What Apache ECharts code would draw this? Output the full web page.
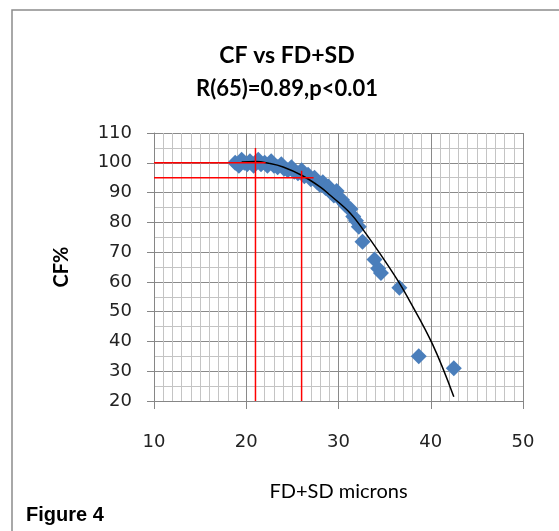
<!DOCTYPE html>
<html>
<head>
<meta charset="utf-8">
<script src="https://cdn.jsdelivr.net/npm/echarts@6/dist/echarts.min.js"></script>
<style>
  html, body { margin: 0; padding: 0; background: #fff; }
  #chart { width: 559px; height: 531px; }
</style>
</head>
<body>
<div id="chart"></div>
<script>
// measured CF% against FD+SD (microns)
const fdsd = [18.8, 19.2, 19.5, 19.8, 20.1, 20.4, 20.8, 21.0, 21.3, 21.6, 22.0, 22.3, 22.7, 23.0,
  23.4, 23.8, 24.1, 24.5, 24.9, 25.2, 25.6, 26.0, 26.3, 26.7, 27.0, 27.4, 27.7, 28.0, 28.3,
  28.6, 28.9, 29.2, 29.5, 29.8, 30.1, 30.4, 30.7, 31.0, 31.3, 31.6, 31.9, 32.2, 32.6, 33.9,
  34.3, 34.6, 36.6, 38.7, 42.5]
const cf = [100, 99, 101, 100, 99.5, 100.5, 99, 100, 101, 99.5, 100, 99, 100.5, 99,
  98.5, 99.5, 98, 97.5, 98.5, 97, 96.5, 97.5, 95.5, 96, 94.5, 95, 93.5, 92.5, 93.5,
  91.5, 92, 90, 89, 90.5, 88, 87.5, 86, 85, 84.5, 82, 80.5, 78.5, 73.5, 67.5,
  64.5, 63, 58, 35, 31]

// polynomial trendline
const trendX = [19.5, 21, 22.5, 24, 26, 28, 29.1, 31.3, 32.7, 34.5, 36.4, 37.5, 40.2, 42.5]
const trendY = [100.3, 100.4, 99.8, 98.6, 95.8, 91.9, 89.1, 83, 77.4, 69.5, 60.6, 54.8, 39, 21.4]

// red reference cross-hairs
const ref1X = [10, 22.1, null, 21, 21]
const ref1Y = [100, 100, null, 20, 105]
const ref2X = [10, 27.3, null, 26, 26]
const ref2Y = [95, 95, null, 20, 97.3]

const xTicks = [10, 50, 10]   // min, max, interval
const yTicks = [20, 110, 10]

const pairs = (xs, ys) => xs.map((x, i) => (x === null ? [null, null] : [x, ys[i]]))

const chart = echarts.init(document.getElementById('chart'))

const tickFont = { color: '#222', fontFamily: 'DejaVu Sans', fontSize: 18 }

chart.setOption({
  backgroundColor: '#fff',
  animation: false,
  title: [
    {
      text: 'CF vs FD+SD',
      left: 282, top: 39, textAlign: 'center',
      textStyle: { fontFamily: 'Lato', fontWeight: 'bold', fontSize: 23, color: '#000' }
    },
    {
      text: 'R(65)=0.89,p<0.01',
      left: 282, top: 73, textAlign: 'center',
      textStyle: { fontFamily: 'Lato', fontWeight: 'bold', fontSize: 22, color: '#000' }
    }
  ],
  graphic: [
    {
      type: 'rect',
      shape: { x: 12, y: 10, width: 600, height: 600 },
      style: { fill: 'none', stroke: '#8c8c8c', lineWidth: 1.5 },
      silent: true
    },
    {
      type: 'text',
      left: 26, top: 505,
      style: { text: 'Figure 4', fontFamily: 'Liberation Sans', fontWeight: 'bold', fontSize: 20, fill: '#000' }
    }
  ],
  grid: { left: 154, top: 133, width: 369, height: 268 },
  xAxis: {
    type: 'value',
    min: xTicks[0], max: xTicks[1], interval: xTicks[2],
    name: 'FD+SD microns',
    nameLocation: 'middle', nameGap: 81,
    nameTextStyle: { fontFamily: 'Lato', fontSize: 20, color: '#000' },
    axisLine: { show: true, onZero: false, lineStyle: { color: '#868686', width: 1 } },
    axisTick: { show: true, inside: false, length: 8, lineStyle: { color: '#868686' } },
    axisLabel: Object.assign({ margin: 32 }, tickFont),
    splitLine: { show: true, lineStyle: { color: '#8a8a8a', width: 1 } },
    minorTick: { show: false, splitNumber: 10 },
    minorSplitLine: { show: true, lineStyle: { color: '#c4c4c4', width: 1 } }
  },
  yAxis: {
    type: 'value',
    min: yTicks[0], max: yTicks[1], interval: yTicks[2],
    name: 'CF%',
    nameLocation: 'middle', nameGap: 82, nameRotate: 90,
    nameTextStyle: { fontFamily: 'Lato', fontWeight: 'bold', fontSize: 20, color: '#000' },
    axisLine: { show: true, onZero: false, lineStyle: { color: '#868686', width: 1 } },
    axisTick: { show: true, inside: false, length: 7, lineStyle: { color: '#868686' } },
    axisLabel: Object.assign({ margin: 22 }, tickFont),
    splitLine: { show: true, lineStyle: { color: '#8a8a8a', width: 1 } },
    minorTick: { show: false, splitNumber: 2 },
    minorSplitLine: { show: true, lineStyle: { color: '#c4c4c4', width: 1 } }
  },
  series: [
    {
      name: 'CF',
      type: 'scatter',
      symbol: 'diamond',
      symbolSize: [16, 16],
      itemStyle: { color: '#4a7ebb', opacity: 1 },
      data: pairs(fdsd, cf),
      z: 2
    },
    {
      name: 'trend',
      type: 'line',
      smooth: 0.4,
      showSymbol: false,
      lineStyle: { color: '#000', width: 1.5 },
      data: pairs(trendX, trendY),
      z: 3
    },
    {
      name: 'ref1',
      type: 'line',
      showSymbol: false,
      connectNulls: false,
      lineStyle: { color: '#ff0000', width: 1.5 },
      data: pairs(ref1X, ref1Y),
      z: 4
    },
    {
      name: 'ref2',
      type: 'line',
      showSymbol: false,
      connectNulls: false,
      lineStyle: { color: '#ff0000', width: 1.5 },
      data: pairs(ref2X, ref2Y),
      z: 4
    }
  ]
})
</script>
</body>
</html>
